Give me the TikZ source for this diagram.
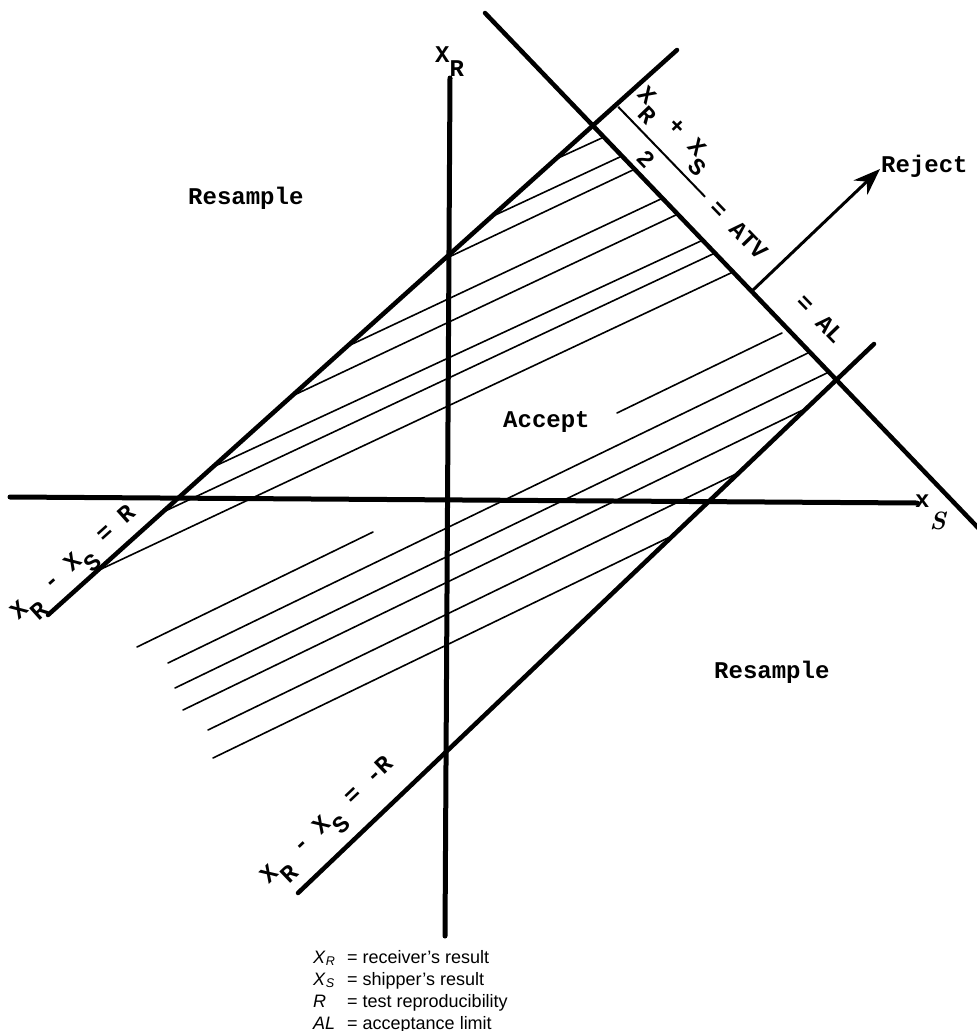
\documentclass[tikz,border=0pt]{standalone}
\usepackage{fontspec}
\setmonofont{Liberation Mono}
\setsansfont{Liberation Sans}
\usetikzlibrary{arrows.meta}
\newcommand\lo[1]{\raisebox{-14pt}{#1}}
\begin{document}
\begin{tikzpicture}[x=1pt,y=-1pt,
  thickline/.style={line width=4.5pt, line cap=round},
  axisline/.style={line width=5pt, line cap=round},
  hatch/.style={line width=1.6pt, line cap=round},
  tw/.style={font=\ttfamily\bfseries\fontsize{24}{28}\selectfont, inner sep=0pt},
  legend/.style={font=\sffamily\fontsize{18}{22}\selectfont, inner sep=0pt, anchor=base west}]
\useasboundingbox (0,0) rectangle (977,1031);
\fill[white] (0,0) rectangle (977,1031);
% named end points
\coordinate (xr1) at (450,78);  \coordinate (xr2) at (445,936);
\coordinate (xs1) at (10,497);  \coordinate (xs2) at (917,503);
\coordinate (up1) at (48,615);  \coordinate (up2) at (677,50);
\coordinate (lo1) at (298,893); \coordinate (lo2) at (874,344);
\coordinate (atv1) at (485,13); \coordinate (atv2) at (985,535);
\coordinate (rj1) at (752,291); \coordinate (rj2) at (880,169);
% hatching
\foreach \ax/\ay/\bx/\by in {556/159/604/137, 491/217/622/156, 449/257/635/169,
  346/347/663/198, 290/397/678/214, 213/467/703/240, 161/513/715/253,
  97/571/733/272, 137/647/373/532, 617/413/782/333, 168/663/810/352,
  175/688/829/372, 183/710/807/408, 208/730/738/473, 213/758/674/535}
  \draw[hatch] (\ax,\ay) -- (\bx,\by);
% axes and boundary lines
\draw[axisline] (xs1) -- (xs2);
\draw[axisline] (xr1) -- (xr2);
\draw[thickline] (up1) -- (up2);
\draw[thickline] (lo1) -- (lo2);
\draw[thickline] (atv1) -- (atv2);
\draw[line width=3pt, -{Stealth[length=27pt,width=20pt]}] (rj1) -- (rj2);
% region labels
\node[tw, anchor=base west] (resU) at (188,204) {Resample};
\node[tw, anchor=base west] (acc) at (503,427) {Accept};
\node[tw, anchor=base west] (resL) at (714,678) {Resample};
\node[tw, anchor=base west] (rej) at (881,172) {Reject};
% axis labels
\node[tw, anchor=base west] (xrlab) at (435,62) {X\lo{R}};
\node[tw, anchor=base west] (xslab) at (915,507) {x\raisebox{-22pt}{\rmfamily\bfseries\itshape\fontsize{25}{28}\selectfont S}};
% line labels
\node[tw, rotate=41.9] (eqR) at (77,567) {X\lo{R} - X\lo{S} = R};
\node[tw, rotate=43.6] (eqmR) at (331,824.5) {X\lo{R} - X\lo{S} = -R};
\node[tw, rotate=-46] (al) at (820,319) {= AL};
\begin{scope}[shift={(645,95)}, rotate=-46, transform shape]
  \node[tw, anchor=base] (num) at (45,6.8) {X\lo{R} + X\lo{S}};
  \coordinate (bar1) at (-10,27.5); \coordinate (bar2) at (115,27.5);
  \draw[line width=2pt] (bar1) -- (bar2);
  \node[tw] (den) at (47,44) {2};
  \node[tw, anchor=base] (atvlab) at (162,34.3) {= ATV};
\end{scope}
% legend
\node[legend] (lg1) at (313,963) {\makebox[34pt][l]{\textit{X}\textsubscript{\textit{R}}}= receiver’s result};
\node[legend] (lg2) at (313,985) {\makebox[34pt][l]{\textit{X}\textsubscript{\textit{S}}}= shipper’s result};
\node[legend] (lg3) at (313,1007) {\makebox[34pt][l]{\textit{R}}= test reproducibility};
\node[legend] (lg4) at (313,1029) {\makebox[34pt][l]{\textit{AL}}= acceptance limit};
\end{tikzpicture}
\end{document}
